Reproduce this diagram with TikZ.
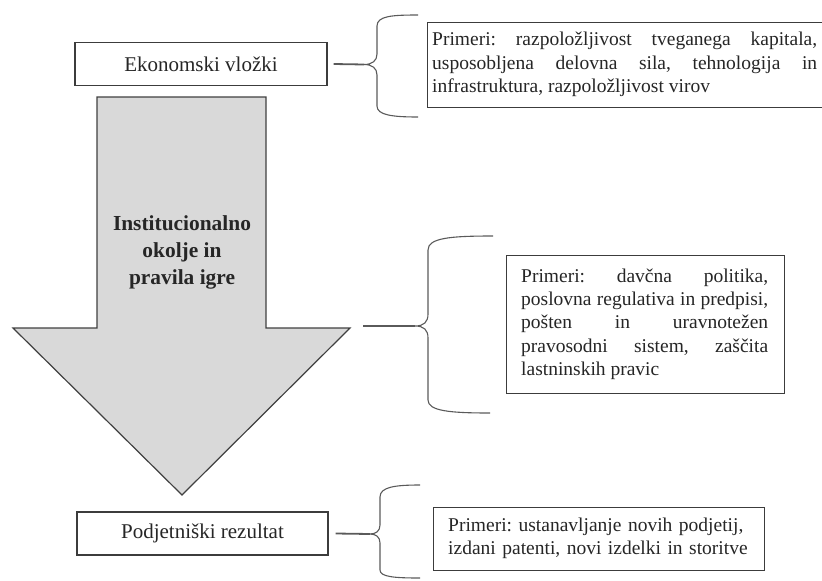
\documentclass[tikz,border=0pt]{standalone}
\usepackage{fontspec}
\setmainfont{Liberation Serif}
\definecolor{boxline}{HTML}{3C3C3C}
\definecolor{txt}{HTML}{262626}
\definecolor{bracecol}{HTML}{5A5A5A}
\definecolor{arrfill}{HTML}{D9D9D9}
\definecolor{arrline}{HTML}{404040}
\hyphenpenalty=10000
\exhyphenpenalty=10000
\frenchspacing
\begin{document}
\begin{tikzpicture}[x=1pt,y=-1pt,
  box/.style={draw=boxline, line width=1.4pt, fill=white, text=txt,
    font=\fontsize{21}{25}\selectfont, inner sep=0pt},
  exbox/.style={draw=boxline, line width=1.3pt, fill=white, inner sep=0pt},
  extext/.style={text=txt, font=\fontsize{19.5}{23.3}\selectfont,
    align=justify, inner sep=0pt, anchor=west},
  brace/.style={draw=bracecol, line width=1.1pt},
  stub/.style={draw=bracecol, line width=1.8pt}]
\useasboundingbox (0,0) rectangle (822,581);

% left column
\node[box, minimum width=252pt, minimum height=43pt] (eko) at (201,64) {Ekonomski vložki};
\node[box, minimum width=251pt, minimum height=43pt] (pod) at (202.5,533.5) {Podjetniški rezultat};

% big arrow
\draw[draw=arrline, fill=arrfill, line width=1.2pt, line join=miter]
  (97,97) -- (266,97) -- (266,328) -- (350,328) -- (182,495) -- (13,328) -- (97,328) -- cycle;
\node[font=\bfseries\fontsize{21.4}{27}\selectfont, align=center, text=txt] (inst) at (182,252)
  {Institucionalno\\okolje in\\pravila igre};

% right boxes
\node[exbox, minimum width=410pt, minimum height=85pt, anchor=north west] (exA) at (427,22) {};
\node[extext, text width=385pt] (exAt) at (432,64.5)
  {Primeri: razpoložljivost tveganega kapitala,\linebreak usposobljena delovna sila, tehnologija in\linebreak infrastruktura, razpoložljivost virov};

\node[exbox, minimum width=278pt, minimum height=138pt, anchor=north west] (exB) at (506,255) {};
\node[extext, text width=247pt] (exBt) at (521,324)
  {Primeri: davčna politika,\linebreak poslovna regulativa in predpisi,\linebreak pošten in uravnotežen\linebreak pravosodni sistem, zaščita\linebreak lastninskih pravic};

\node[exbox, minimum width=331pt, minimum height=63pt, anchor=north west] (exC) at (433,507) {};
\node[extext, align=left, text width=312pt] (exCt) at (448,538.5)
  {Primeri: ustanavljanje novih podjetij,\\izdani patenti, novi izdelki in storitve};

% braces
\coordinate (tA) at (364,64.5);
\coordinate (tB) at (415,326);
\coordinate (sB) at (363,326);
\coordinate (tC) at (370,534);

\draw[stub] ([xshift=6pt]eko.east) -- (tA);
\draw[brace] (418,15) .. controls (392,15) and (377,16) .. (377,26) -- (377,54)
  .. controls (377,61) and (372,64.5) .. (tA)
  .. controls (372,64.5) and (377,68) .. (377,75) -- (377,106)
  .. controls (377,115) and (392,117) .. (418,117);

\draw[stub] (sB) -- (tB);
\draw[brace] (493,236) .. controls (450,236) and (428,238) .. (428,250) -- (428,314)
  .. controls (428,322) and (424,326) .. (tB)
  .. controls (424,326) and (428,330) .. (428,338) -- (428,400)
  .. controls (428,411) and (450,413) .. (490,413);

\draw[stub] ([xshift=7pt]pod.east) -- (tC);
\draw[brace] (420,485) .. controls (395,485) and (380,487) .. (380,497) -- (380,525)
  .. controls (380,531) and (376,534) .. (tC)
  .. controls (376,534) and (380,537) .. (380,543) -- (380,570)
  .. controls (380,577) and (395,578) .. (420,578);
\end{tikzpicture}
\end{document}
